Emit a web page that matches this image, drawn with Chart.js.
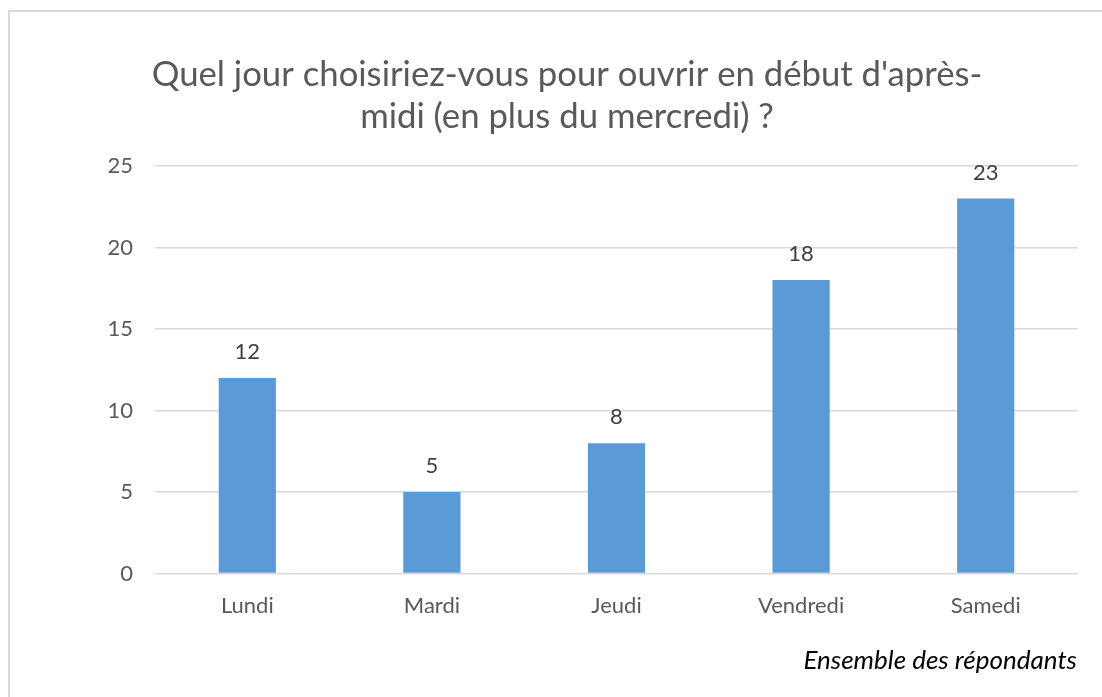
<!DOCTYPE html>
<html lang="fr">
<head>
<meta charset="utf-8">
<title>Ouverture en début d'après-midi</title>
<script src="https://cdn.jsdelivr.net/npm/chart.js@4/dist/chart.umd.min.js"></script>
<style>
  html, body { margin: 0; padding: 0; background: #fff; overflow: hidden; width: 1102px; height: 697px; }
  #box {
    position: absolute; left: 8px; top: 10px;
    width: 1118px; height: 687px;
    border-top: 2px solid #d9d9d9; border-left: 2px solid #d9d9d9;
  }
  #caption {
    position: absolute; right: 25px; top: 643px;
    font-family: Lato, sans-serif; font-style: italic; font-size: 26px; color: #000;
  }
</style>
</head>
<body>
<div id="box"><canvas id="chartJours"></canvas></div>
<div id="caption">Ensemble des répondants</div>
<script>
// Réponses par jour
let jours = ['Lundi', 'Mardi', 'Jeudi', 'Vendredi', 'Samedi'];
let reponses = [12, 5, 8, 18, 23];
let titre = ["Quel jour choisiriez-vous pour ouvrir en début d'après-", "midi (en plus du mercredi) ?"];

const fontFamily = 'Lato, sans-serif';
const textColor = '#595959';

// valeurs au-dessus des barres
const valeursPlugin = {
    id: 'valeurs',
    afterDatasetsDraw(chart) {
        const ctx = chart.ctx;
        const meta = chart.getDatasetMeta(0);
        ctx.save();
        ctx.font = '22px ' + fontFamily;
        ctx.fillStyle = '#404040';
        ctx.textAlign = 'center';
        ctx.textBaseline = 'middle';
        meta.data.forEach(function(bar, i) {
            ctx.fillText(String(reponses[i]), bar.x, bar.y - 26);
        });
        ctx.restore();
    }
};

const ctx = document.getElementById('chartJours');
const chartJours = new Chart(ctx, {
    type: 'bar',
    data: {
        labels: jours,
        datasets: [
            {
                label: '',
                data: reponses,
                backgroundColor: '#5b9bd5',
                categoryPercentage: 1,
                barPercentage: 0.31
            }
        ]
    },
    options: {
        responsive: true,
        maintainAspectRatio: false,
        animation: false,
        layout: {
            padding: { left: 46, right: 50, top: 0, bottom: 69 }
        },
        plugins: {
            legend: { display: false },
            tooltip: { enabled: false },
            title: {
                display: true,
                text: titre,
                color: textColor,
                font: { family: fontFamily, size: 34.7, weight: 'normal', lineHeight: 1.21 },
                padding: { top: 42, bottom: 28 }
            }
        },
        scales: {
            x: {
                grid: { display: false },
                border: { display: false },
                ticks: {
                    color: textColor,
                    font: { family: fontFamily, size: 22 },
                    padding: 11
                }
            },
            y: {
                min: 0,
                max: 25,
                afterFit(scale) { scale.width = 99; },
                border: { display: false },
                grid: { color: '#d9d9d9', lineWidth: 1.5, drawTicks: false },
                ticks: {
                    stepSize: 5,
                    color: textColor,
                    font: { family: fontFamily, size: 22 },
                    padding: 22
                }
            }
        }
    },
    plugins: [valeursPlugin]
});
</script>
</body>
</html>
